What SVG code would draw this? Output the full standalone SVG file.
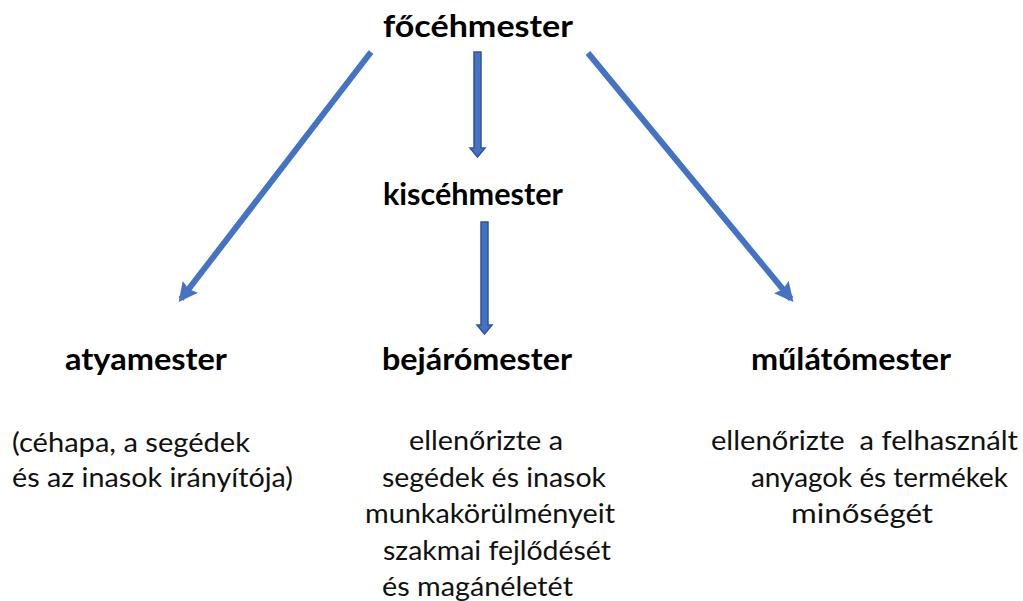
<svg xmlns="http://www.w3.org/2000/svg" width="1023" height="601" viewBox="0 0 1023 601">
<style>
  .t { font-family: Lato, "Open Sans", "Liberation Sans", sans-serif; font-weight: bold; font-size: 30px; fill: #000; }
  .d { font-family: Lato, "Open Sans", "Liberation Sans", sans-serif; font-size: 27.5px; fill: #111; }
  .diag { stroke: #4472C4; stroke-width: 6; fill: none; }
  .blk { fill: #4472C4; stroke: #2F5597; stroke-width: 1.5; }
</style>
<defs>
  <marker id="ah" viewBox="0 0 10 10" refX="8" refY="5" markerWidth="3.2" markerHeight="3.2" orient="auto" markerUnits="strokeWidth">
    <path d="M0,0 L10,5 L0,10 L1.5,5 z" fill="#4472C4"/>
  </marker>
</defs>
<rect width="1023" height="601" fill="#fff"/>
<g id="connectors">
  <line class="diag" x1="371" y1="52" x2="181" y2="299" marker-end="url(#ah)"/>
  <line class="diag" x1="588" y1="53" x2="791" y2="299" marker-end="url(#ah)"/>
  <path class="blk" d="M474,52 H481 V148 H485 L477.5,157 L470,148 H474 Z"/>
  <path class="blk" d="M481,222 H488 V325 H492 L484.5,334 L477,325 H481 Z"/>
</g>
<g id="focehmester"><text class="t" x="383" y="37" font-size="33" textLength="190" lengthAdjust="spacingAndGlyphs">főcéhmester</text></g>
<g id="kiscehmester"><text class="t" x="383" y="205" font-size="30" textLength="180" lengthAdjust="spacingAndGlyphs">kiscéhmester</text></g>
<g id="atyamester">
  <text class="t" x="65" y="370" textLength="162" lengthAdjust="spacingAndGlyphs">atyamester</text>
  <text class="d" x="12" y="452" textLength="238" lengthAdjust="spacingAndGlyphs">(céhapa, a segédek</text>
  <text class="d" x="12" y="487" textLength="281" lengthAdjust="spacingAndGlyphs">és az inasok irányítója)</text>
</g>
<g id="bejaromester">
  <text class="t" x="382" y="370" textLength="190" lengthAdjust="spacingAndGlyphs">bejárómester</text>
  <text class="d" x="409" y="450" textLength="154" lengthAdjust="spacingAndGlyphs">ellenőrizte a</text>
  <text class="d" x="382" y="487" textLength="224" lengthAdjust="spacingAndGlyphs">segédek és inasok</text>
  <text class="d" x="365" y="523" textLength="250" lengthAdjust="spacingAndGlyphs">munkakörülményeit</text>
  <text class="d" x="383" y="560" textLength="228" lengthAdjust="spacingAndGlyphs">szakmai fejlődését</text>
  <text class="d" x="382" y="596" textLength="191" lengthAdjust="spacingAndGlyphs">és magánéletét</text>
</g>
<g id="mulatomester">
  <text class="t" x="751" y="370" textLength="200" lengthAdjust="spacingAndGlyphs">műlátómester</text>
  <text class="d" x="711" y="450" textLength="307" lengthAdjust="spacingAndGlyphs" xml:space="preserve">ellenőrizte  a felhasznált</text>
  <text class="d" x="751" y="487" textLength="257" lengthAdjust="spacingAndGlyphs">anyagok és termékek</text>
  <text class="d" x="791" y="523" textLength="142" lengthAdjust="spacingAndGlyphs">minőségét</text>
</g>
</svg>
